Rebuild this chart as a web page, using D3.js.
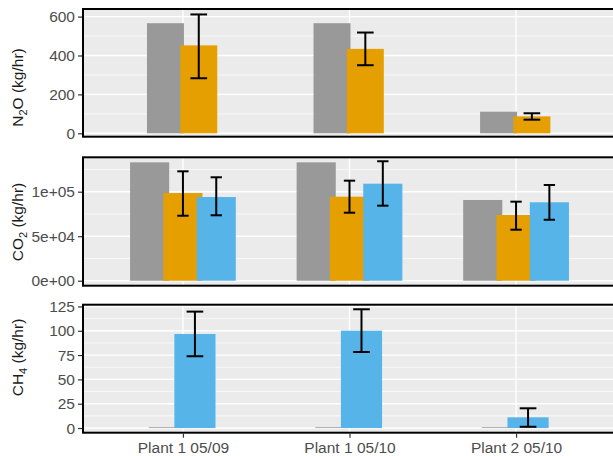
<!DOCTYPE html>
<html><head><meta charset="utf-8">
<script src="https://cdn.jsdelivr.net/npm/d3@7/dist/d3.min.js"></script>
<style>
html,body{margin:0;padding:0;background:#fff;}
svg{display:block;font-family:"Liberation Sans",Arial,sans-serif;}
</style></head>
<body>
<svg id="chart" width="613" height="456"></svg>
<script>
// ---- data ----
const categories = ["Plant 1 05/09", "Plant 1 05/10", "Plant 2 05/10"];

const n2oGrey     = [566, 566, 111];
const n2oOrange   = [452, 434, 87];
const n2oOrangeLo = [283, 350, 70];
const n2oOrangeHi = [611, 518, 103];

const co2Grey     = [133000, 133000, 90700];
const co2Orange   = [98500, 94400, 73800];
const co2OrangeLo = [73000, 76400, 57300];
const co2OrangeHi = [122900, 112400, 88800];
const co2Blue     = [94000, 109000, 88100];
const co2BlueLo   = [73500, 84300, 68500];
const co2BlueHi   = [116200, 134200, 107500];

const ch4Grey     = [0.8, 0.8, 0.8];
const ch4Blue     = [96.7, 100.1, 11];
const ch4BlueLo   = [73.8, 78.2, 1.3];
const ch4BlueHi   = [119.7, 122.1, 20.3];

const n2oTicks = [0, 200, 400, 600];
const n2oTickLabels = ["0", "200", "400", "600"];
const co2Ticks = [0, 50000, 100000];
const co2TickLabels = ["0e+00", "5e+04", "1e+05"];
const ch4Ticks = [0, 25, 50, 75, 100, 125];
const ch4TickLabels = ["0", "25", "50", "75", "100", "125"];

// ---- styles ----
const GREY = "#999999", ORANGE = "#E69F00", BLUE = "#56B4E9";

const svg = d3.select("#chart");
const left = 83, right = 616;
const x = d3.scalePoint().domain(categories).range([left, right]).padding(0.6);
const step = x.step();

const panels = [
  {
    top: 9, bottom: 136.7, domain: [-17.5, 639],
    ticks: n2oTicks, labels: n2oTickLabels,
    title: ["N", "2", "O (kg/hr)"], titleY: 87.5,
    series: [
      {vals: n2oGrey, color: GREY, off: -0.105},
      {vals: n2oOrange, lo: n2oOrangeLo, hi: n2oOrangeHi, color: ORANGE, off: 0.095}
    ],
    width: 0.222, cap: 0.1
  },
  {
    top: 157.3, bottom: 285.7, domain: [-5600, 138650],
    ticks: co2Ticks, labels: co2TickLabels,
    title: ["CO", "2", " (kg/hr)"], titleY: 222,
    series: [
      {vals: co2Grey, color: GREY, off: -0.2},
      {vals: co2Orange, lo: co2OrangeLo, hi: co2OrangeHi, color: ORANGE, off: 0},
      {vals: co2Blue, lo: co2BlueLo, hi: co2BlueHi, color: BLUE, off: 0.2}
    ],
    width: 0.235, cap: 0.068
  },
  {
    top: 304.7, bottom: 432.7, domain: [-4.8, 126.8],
    ticks: ch4Ticks, labels: ch4TickLabels,
    title: ["CH", "4", " (kg/hr)"], titleY: 357.5,
    series: [
      {vals: ch4Grey, color: GREY, off: -0.082},
      {vals: ch4Blue, lo: ch4BlueLo, hi: ch4BlueHi, color: BLUE, off: 0.072}
    ],
    width: 0.247, cap: 0.1,
    xaxis: true
  }
];

panels.forEach(p => {
  const y = d3.scaleLinear().domain(p.domain).range([p.bottom, p.top]);
  const g = svg.append("g");
  // background
  g.append("rect").attr("x", left).attr("y", p.top)
    .attr("width", right - left).attr("height", p.bottom - p.top)
    .attr("fill", "#EBEBEB");
  // minor gridlines (midpoints between major ticks, plus one beyond)
  const stepT = p.ticks[1] - p.ticks[0];
  const minor = [];
  for (let v = p.ticks[0] + stepT / 2; v < p.domain[1]; v += stepT) minor.push(v);
  g.selectAll(".minor").data(minor).join("line")
    .attr("x1", left).attr("x2", right)
    .attr("y1", d => y(d)).attr("y2", d => y(d))
    .attr("stroke", "#fff").attr("stroke-width", 0.7);
  g.selectAll(".major").data(p.ticks).join("line")
    .attr("x1", left).attr("x2", right)
    .attr("y1", d => y(d)).attr("y2", d => y(d))
    .attr("stroke", "#fff").attr("stroke-width", 1.4);
  g.selectAll(".vmajor").data(categories).join("line")
    .attr("x1", d => x(d)).attr("x2", d => x(d))
    .attr("y1", p.top).attr("y2", p.bottom)
    .attr("stroke", "#fff").attr("stroke-width", 1.4);

  // bars
  p.series.forEach(s => {
    g.selectAll(null).data(categories).join("rect")
      .attr("x", (d, i) => x(d) + (s.off - p.width / 2) * step)
      .attr("width", p.width * step)
      .attr("y", (d, i) => y(s.vals[i]))
      .attr("height", (d, i) => y(0) - y(s.vals[i]))
      .attr("fill", s.color);
  });
  // error bars
  p.series.forEach(s => {
    if (!s.lo) return;
    categories.forEach((c, i) => {
      const cx = x(c) + s.off * step;
      const hw = p.cap * step / 2;
      const eg = g.append("g").attr("stroke", "#000").attr("stroke-width", 2).attr("fill", "none");
      eg.append("line").attr("x1", cx).attr("x2", cx).attr("y1", y(s.hi[i])).attr("y2", y(s.lo[i]));
      eg.append("line").attr("x1", cx - hw).attr("x2", cx + hw).attr("y1", y(s.hi[i])).attr("y2", y(s.hi[i]));
      eg.append("line").attr("x1", cx - hw).attr("x2", cx + hw).attr("y1", y(s.lo[i])).attr("y2", y(s.lo[i]));
    });
  });

  // border
  g.append("rect").attr("x", left).attr("y", p.top)
    .attr("width", right - left).attr("height", p.bottom - p.top)
    .attr("fill", "none").attr("stroke", "#000").attr("stroke-width", 2);

  // y axis
  const yAxis = d3.axisLeft(y).tickValues(p.ticks)
    .tickFormat((d, i) => p.labels[i]).tickSize(4).tickPadding(3);
  const ag = svg.append("g").attr("transform", `translate(${left - 1},0)`).call(yAxis);
  ag.select(".domain").remove();
  ag.selectAll(".tick line").attr("stroke", "#333").attr("stroke-width", 1.2);
  ag.selectAll(".tick text").attr("fill", "#4D4D4D").style("font-size", "15.5px")
    .attr("font-family", "Liberation Sans, Arial, sans-serif");

  // title
  const t = svg.append("text")
    .attr("transform", `translate(23,${p.titleY}) rotate(-90)`)
    .attr("text-anchor", "middle").attr("fill", "#1a1a1a")
    .style("font-size", "15.5px");
  t.append("tspan").text(p.title[0]);
  t.append("tspan").text(p.title[1]).style("font-size", "11px").attr("dy", 4);
  t.append("tspan").text(p.title[2]).attr("dy", -4);

  if (p.xaxis) {
    const xAxis = d3.axisBottom(x).tickSize(4).tickPadding(4);
    const xg = svg.append("g").attr("transform", `translate(0,${p.bottom + 1})`).call(xAxis);
    xg.select(".domain").remove();
    xg.selectAll(".tick line").attr("stroke", "#333").attr("stroke-width", 1.2);
    xg.selectAll(".tick text").attr("fill", "#4D4D4D").style("font-size", "15.5px")
      .attr("font-family", "Liberation Sans, Arial, sans-serif");
  }
});
</script>
</body></html>
